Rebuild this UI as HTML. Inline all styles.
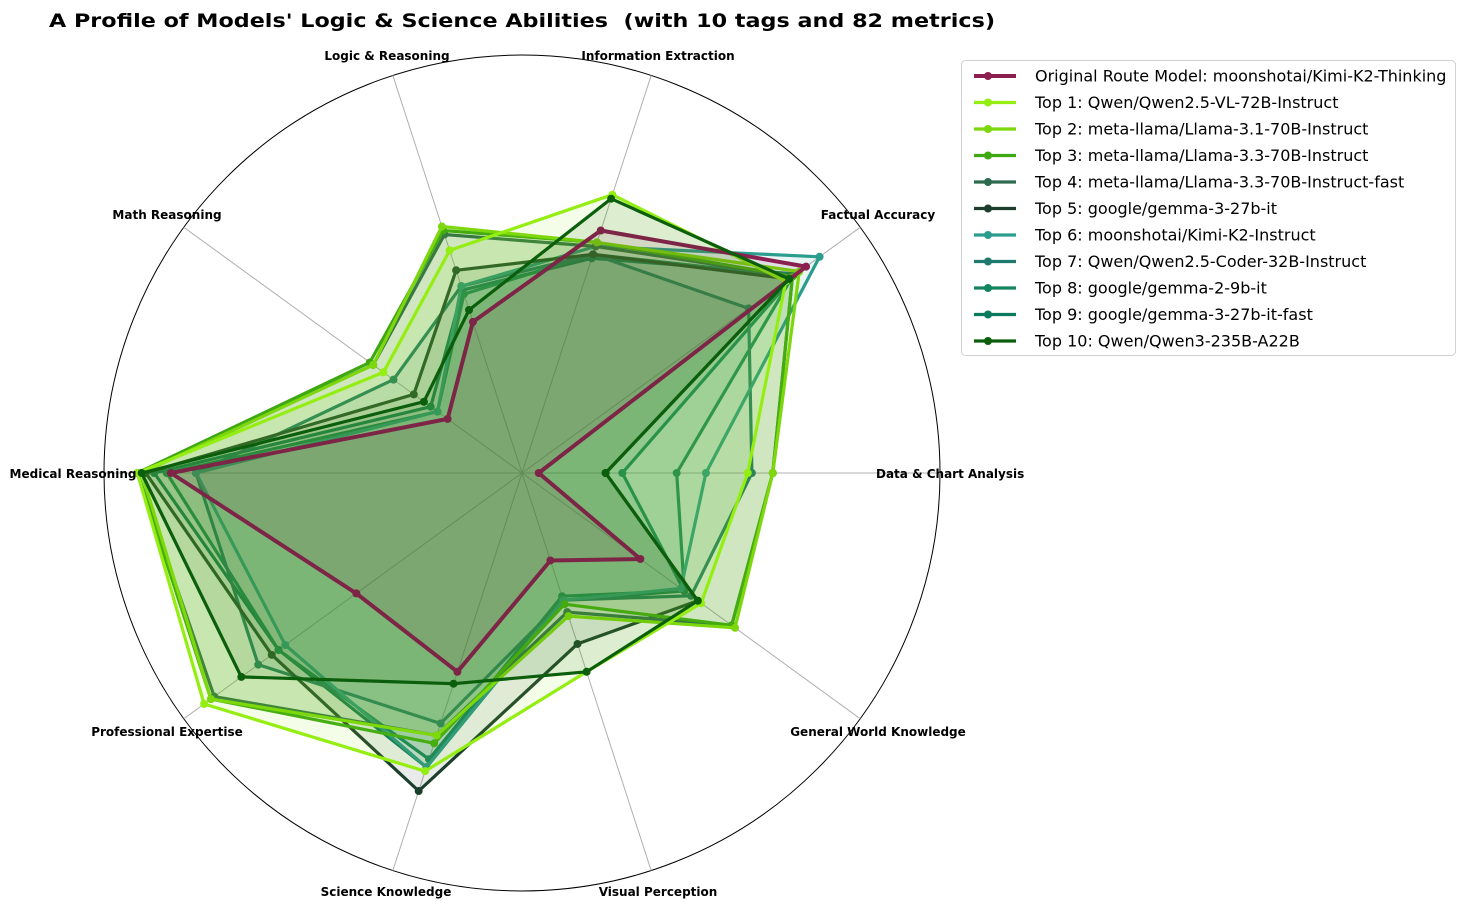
<!DOCTYPE html>
<html><head><meta charset="utf-8"><style>
body{margin:0;background:#fff;font-family:"DejaVu Sans","Liberation Sans",sans-serif}
svg text{font-family:"DejaVu Sans","Liberation Sans",sans-serif}
</style></head><body>
<svg id="chart" width="1465" height="908" xmlns="http://www.w3.org/2000/svg">
<text x="49" y="27" font-size="19" font-weight="bold" textLength="946" lengthAdjust="spacingAndGlyphs" xml:space="preserve">A Profile of Models' Logic &amp; Science Abilities  (with 10 tags and 82 metrics)</text>
<g id="grid"></g><g id="series"></g><g id="labels"></g><g id="legend"></g>
</svg>
<script>
const categories=["Data & Chart Analysis","Factual Accuracy","Information Extraction","Logic & Reasoning","Math Reasoning","Medical Reasoning","Professional Expertise","Science Knowledge","Visual Perception","General World Knowledge"];
const seriesNames=["Original Route Model: moonshotai/Kimi-K2-Thinking","Top 1: Qwen/Qwen2.5-VL-72B-Instruct","Top 2: meta-llama/Llama-3.1-70B-Instruct","Top 3: meta-llama/Llama-3.3-70B-Instruct","Top 4: meta-llama/Llama-3.3-70B-Instruct-fast","Top 5: google/gemma-3-27b-it","Top 6: moonshotai/Kimi-K2-Instruct","Top 7: Qwen/Qwen2.5-Coder-32B-Instruct","Top 8: google/gemma-2-9b-it","Top 9: google/gemma-3-27b-it-fast","Top 10: Qwen/Qwen3-235B-A22B"];
const seriesColors=["#8b1f4f","#94ee12","#7cd70c","#3ea812","#2e6a4e","#1c3f2d","#2a9d8f","#1f7a6e","#13855c","#0a7a5c","#0b5e0b"];
const v0=[0.04,0.84,0.61,0.38,0.22,0.84,0.49,0.50,0.22,0.35];
const v1=[0.54,0.78,0.70,0.56,0.41,0.92,0.94,0.75,0.50,0.53];
const v2=[0.60,0.82,0.58,0.62,0.44,0.91,0.92,0.66,0.36,0.63];
const v3=[0.60,0.80,0.58,0.61,0.45,0.92,0.92,0.68,0.33,0.62];
const v4=[0.60,0.80,0.57,0.60,0.44,0.92,0.91,0.66,0.35,0.62];
const v5=[0.20,0.79,0.55,0.51,0.32,0.90,0.74,0.80,0.43,0.52];
const v6=[0.44,0.88,0.57,0.47,0.25,0.78,0.70,0.74,0.32,0.47];
const v7=[0.55,0.67,0.55,0.47,0.38,0.78,0.78,0.63,0.32,0.50];
const v8=[0.37,0.80,0.55,0.45,0.25,0.85,0.72,0.72,0.31,0.48];
const v9=[0.24,0.81,0.54,0.46,0.27,0.88,0.72,0.74,0.32,0.48];
const v10=[0.20,0.79,0.69,0.41,0.29,0.91,0.83,0.53,0.50,0.52];
const seriesValues=[v0,v1,v2,v3,v4,v5,v6,v7,v8,v9,v10];
const NS="http://www.w3.org/2000/svg";
const cx=522,cy=473,R=418;
function ang(i){return i*2*Math.PI/categories.length;}
function px(i,v){return cx+R*v*Math.cos(ang(i));}
function py(i,v){return cy-R*v*Math.sin(ang(i));}
function mk(tag,parent,attrs){const e=document.createElementNS(NS,tag);for(const k in attrs)e.setAttribute(k,attrs[k]);parent.appendChild(e);return e;}
const grid=document.getElementById('grid');
const outer=mk('circle',grid,{cx:cx,cy:cy,r:R,fill:'none',stroke:'#000','stroke-width':1});


categories.forEach((c,i)=>{
 const l=mk('line',grid,{x1:cx,y1:cy,x2:px(i,1),y2:py(i,1),stroke:'#b0b0b0','stroke-width':1});
 
 
});
const sg=document.getElementById('series');
for(let s=seriesValues.length-1;s>=0;s--){
 const vals=seriesValues[s];
 const pts=vals.map((v,i)=>px(i,v).toFixed(1)+','+py(i,v).toFixed(1)).join(' ');
 const g=mk('g',sg,{});
 
 
 mk('polygon',g,{points:pts,fill:seriesColors[s],'fill-opacity':0.1,stroke:'none'});
 const pl=mk('polygon',g,{points:pts,fill:'none',stroke:seriesColors[s],'stroke-width':s==0?4:3.2,'stroke-linejoin':'round'});
 
 
 vals.forEach((v,i)=>{
  const d=mk('circle',g,{cx:px(i,v),cy:py(i,v),r:4,fill:seriesColors[s]});
  
  
 });
}
sg.appendChild(sg.firstChild);
const lg=document.getElementById('labels');
const labelPos=[[876,478,'start'],[878,219,'middle'],[658,60,'middle'],[387,60,'middle'],[167,219,'middle'],[73,478,'middle'],[167,736,'middle'],[386,896,'middle'],[658,896,'middle'],[878,736,'middle']];
categories.forEach((c,i)=>{
 const t=mk('text',lg,{x:labelPos[i][0],y:labelPos[i][1],'text-anchor':labelPos[i][2],'font-size':12,'font-weight':'bold'});
 t.textContent=c;
 
 
});
const leg=document.getElementById('legend');
const frame=mk('rect',leg,{x:961.5,y:60.5,width:494,height:295,rx:4,fill:'#fff',stroke:'#d0d0d0'});


seriesNames.forEach((n,s)=>{
 const y=76+s*26.5;
 const g=mk('g',leg,{});
 
 
 mk('line',g,{x1:974,y1:y,x2:1016,y2:y,stroke:seriesColors[s],'stroke-width':s==0?4:3.2});
 mk('circle',g,{cx:988,cy:y,r:4,fill:seriesColors[s]});
 const t=mk('text',g,{x:1035,y:y+5.5,'font-size':16});
 t.textContent=n;
});
</script>
</body></html>
